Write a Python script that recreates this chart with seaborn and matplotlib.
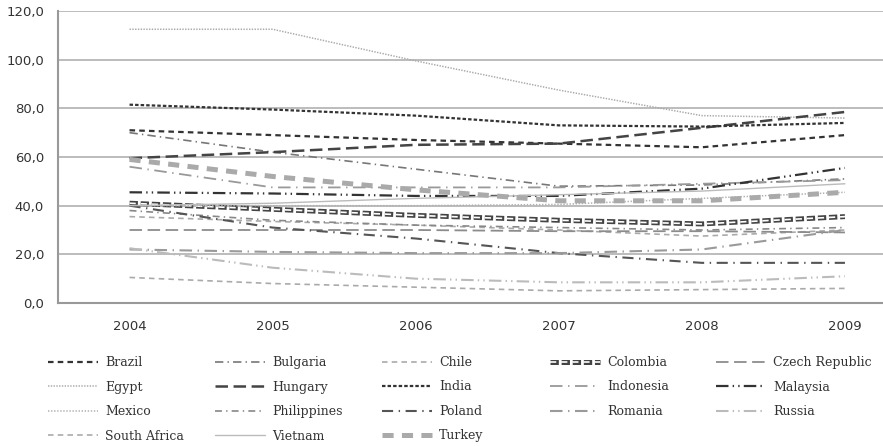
import matplotlib
matplotlib.use("Agg")
import matplotlib.pyplot as plt
import seaborn as sns

# Data
years = ['2004', '2005', '2006', '2007', '2008', '2009']
brazil = [71.0, 69.0, 67.0, 65.5, 64.0, 69.0]
bulgaria = [70.0, 62.0, 55.0, 48.0, 48.5, 51.0]
chile = [35.5, 33.5, 32.0, 30.0, 27.5, 30.0]
colombia = [41.0, 38.5, 36.0, 34.0, 32.5, 35.5]
czech = [30.0, 30.0, 30.0, 29.5, 29.5, 29.0]
egypt = [112.5, 112.5, 99.5, 87.5, 77.0, 76.0]
hungary = [59.5, 62.0, 65.0, 65.5, 72.0, 78.5]
india = [81.5, 79.5, 77.0, 73.0, 72.5, 74.0]
indonesia = [56.0, 47.5, 47.5, 47.5, 49.0, 50.5]
malaysia = [45.5, 45.0, 44.0, 44.0, 47.0, 55.5]
mexico = [40.0, 40.0, 40.0, 40.5, 43.0, 45.5]
philippines = [38.0, 34.0, 32.0, 31.0, 30.0, 31.0]
poland = [40.0, 31.0, 26.5, 20.5, 16.5, 16.5]
romania = [22.0, 21.0, 20.5, 20.5, 22.0, 30.0]
russia = [22.5, 14.5, 10.0, 8.5, 8.5, 11.0]
south_africa = [10.5, 8.0, 6.5, 5.0, 5.5, 6.0]
vietnam = [40.0, 41.0, 43.0, 44.5, 46.0, 49.0]
turkey = [59.0, 52.0, 46.5, 42.0, 42.0, 45.5]

countries = ['Brazil', 'Bulgaria', 'Chile', 'Colombia', 'Czech Republic',
             'Egypt', 'Hungary', 'India', 'Indonesia', 'Malaysia',
             'Mexico', 'Philippines', 'Poland', 'Romania', 'Russia',
             'South Africa', 'Vietnam', 'Turkey']
series = [brazil, bulgaria, chile, colombia, czech, egypt, hungary, india,
          indonesia, malaysia, mexico, philippines, poland, romania, russia,
          south_africa, vietnam, turkey]

# (colour, linewidth, dash pattern in points)
styles = {
    'Brazil': ('#333333', 1.6, (0, (4, 3))),
    'Bulgaria': ('#777777', 1.2, (0, (6, 3, 1, 3))),
    'Chile': ('#aaaaaa', 1.2, (0, (4, 3))),
    'Colombia': ('#444444', 3.6, (0, (6, 2))),
    'Czech Republic': ('#8c8c8c', 1.3, (0, (9, 4))),
    'Egypt': ('#aaaaaa', 1.1, (0, (1, 1))),
    'Hungary': ('#444444', 1.8, (0, (9, 4))),
    'India': ('#333333', 1.6, (0, (2.5, 1.5))),
    'Indonesia': ('#999999', 1.3, (0, (9, 4, 1, 4))),
    'Malaysia': ('#333333', 1.6, (0, (9, 3, 1, 3, 1, 3))),
    'Mexico': ('#b0b0b0', 1.1, (0, (1, 1.2))),
    'Philippines': ('#888888', 1.2, (0, (5, 3, 1, 3))),
    'Poland': ('#555555', 1.5, (0, (8, 4, 1, 4))),
    'Romania': ('#9a9a9a', 1.5, (0, (9, 4, 1, 4))),
    'Russia': ('#bbbbbb', 1.5, (0, (9, 3, 1, 3, 1, 3))),
    'South Africa': ('#aaaaaa', 1.2, (0, (4, 3))),
    'Vietnam': ('#bbbbbb', 1.0, '-'),
    'Turkey': ('#aaaaaa', 3.6, (0, (8, 6))),
}

sns.set_style('white')
plt.rcParams['lines.scale_dashes'] = False
plt.rcParams['font.family'] = ['DejaVu Sans']

fig = plt.figure(figsize=(8.83, 4.46), dpi=100)
ax = fig.add_axes([58 / 883, 1 - 303 / 446, 1 - 58 / 883, (303 - 11) / 446])

xpos = list(range(len(years)))
handles = {}
for name, vals in zip(countries, series):
    color, lw, ls = styles[name]
    sns.lineplot(x=xpos, y=vals, ax=ax, color=color, linewidth=lw,
                 linestyle=ls, legend=False)
    line = ax.lines[-1]
    if name == 'Colombia':
        # white core to get the hollow pill dashes
        sns.lineplot(x=xpos, y=vals, ax=ax, color='white', linewidth=1.2,
                     linestyle=(0, (4.5, 3.5)), legend=False)
        line = (line, ax.lines[-1])
    handles[name] = line

ax.set_ylim(0, 120)
ax.set_xlim(-0.5, 5.266)
ax.set_yticks(range(0, 121, 20))
ax.set_yticklabels([f'{v},0' for v in range(0, 121, 20)], fontsize=9.5,
                   color='#333333')
ax.yaxis.grid(True, color='#b0b0b0', linewidth=1.2)
ax.set_axisbelow(True)

# tick marks between categories, labels at categories
ax.set_xticks([0.5, 1.5, 2.5, 3.5, 4.5])
ax.set_xticklabels([])
ax.set_xticks(xpos, minor=True)
ax.set_xticklabels(years, minor=True, fontsize=9.5, color='#333333')
ax.tick_params(axis='x', which='major', length=4, width=1.2, color='#999999')
ax.tick_params(axis='x', which='minor', length=0, pad=12)
ax.tick_params(axis='y', length=4, width=1.2, color='#999999', pad=6)

for side in ['top', 'right']:
    ax.spines[side].set_visible(False)
for side in ['left', 'bottom']:
    ax.spines[side].set_color('#999999')
    ax.spines[side].set_linewidth(1.5)

# legend: five fixed-width columns like the original
legend_cols = [
    ['Brazil', 'Egypt', 'Mexico', 'South Africa'],
    ['Bulgaria', 'Hungary', 'Philippines', 'Vietnam'],
    ['Chile', 'India', 'Poland', 'Turkey'],
    ['Colombia', 'Indonesia', 'Romania'],
    ['Czech Republic', 'Malaysia', 'Russia'],
]
col_x = [48, 215, 382, 550, 716]
for cx, names in zip(col_x, legend_cols):
    leg = fig.legend([handles[n] for n in names], names,
                     loc='upper left', bbox_to_anchor=(cx / 883, 1 - 356 / 446),
                     frameon=False, borderpad=0, borderaxespad=0,
                     handlelength=4.0, handletextpad=0.55, labelspacing=0.92,
                     prop={'family': 'DejaVu Serif', 'size': 9.0})
    for t in leg.get_texts():
        t.set_color('#333333')

fig.savefig('out.png', dpi=100)
